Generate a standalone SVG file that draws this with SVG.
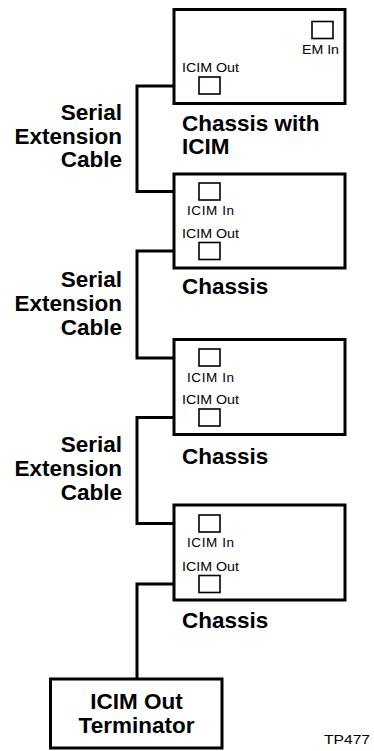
<svg xmlns="http://www.w3.org/2000/svg" width="374" height="751" viewBox="0 0 374 751">
<style>
.box{fill:#fff;stroke:#000;stroke-width:3}
.port{fill:#fff;stroke:#000;stroke-width:1.6}
.cable{fill:none;stroke:#000;stroke-width:3;stroke-linejoin:miter}
.sm{font-family:"Liberation Sans",Arial,sans-serif;font-size:13.5px;fill:#000}
.bd{font-family:"Liberation Sans",Arial,sans-serif;font-size:22.5px;font-weight:bold;fill:#000}
.lbl{text-anchor:end}
</style>
<rect width="374" height="751" fill="#fff"/>
<g id="connectors">
<path class="cable" d="M199,86 H137 V191.5 H199"/>
<path class="cable" d="M199,251 H137 V358 H199"/>
<path class="cable" d="M199,417.5 H137 V523.5 H199"/>
<path class="cable" d="M199,584 H137 V679"/>
</g>
<g id="chassis1">
<rect class="box" x="174" y="9.5" width="171" height="94"/>
<rect class="port" x="312" y="21.5" width="21" height="17"/>
<text class="sm" x="302" y="54" textLength="37" lengthAdjust="spacingAndGlyphs">EM In</text>
<text class="sm" x="182" y="72" textLength="57" lengthAdjust="spacingAndGlyphs">ICIM Out</text>
<rect class="port" x="199" y="77" width="21" height="17"/>
<text class="bd" x="182" y="131">Chassis with</text>
<text class="bd" x="182" y="154">ICIM</text>
</g>
<g id="label1">
<text class="bd lbl" x="122" y="120">Serial</text>
<text class="bd lbl" x="122" y="143.5">Extension</text>
<text class="bd lbl" x="122" y="167">Cable</text>
</g>
<g id="chassis2">
<rect class="box" x="174" y="174" width="171" height="94"/>
<rect class="port" x="199" y="183" width="21" height="17"/>
<text class="sm" x="187" y="215" textLength="47" lengthAdjust="spacing">ICIM In</text>
<text class="sm" x="182" y="237.5" textLength="57" lengthAdjust="spacingAndGlyphs">ICIM Out</text>
<rect class="port" x="199" y="242.5" width="21" height="17"/>
<text class="bd" x="182" y="294">Chassis</text>
</g>
<g id="label2">
<text class="bd lbl" x="122" y="286.5">Serial</text>
<text class="bd lbl" x="122" y="311">Extension</text>
<text class="bd lbl" x="122" y="335">Cable</text>
</g>
<g id="chassis3">
<rect class="box" x="174" y="339.5" width="171" height="95"/>
<rect class="port" x="199" y="349" width="21" height="17"/>
<text class="sm" x="187" y="382" textLength="47" lengthAdjust="spacing">ICIM In</text>
<text class="sm" x="182" y="404" textLength="57" lengthAdjust="spacingAndGlyphs">ICIM Out</text>
<rect class="port" x="199" y="409" width="21" height="17"/>
<text class="bd" x="182" y="464">Chassis</text>
</g>
<g id="label3">
<text class="bd lbl" x="122" y="451.5">Serial</text>
<text class="bd lbl" x="122" y="476">Extension</text>
<text class="bd lbl" x="122" y="500">Cable</text>
</g>
<g id="chassis4">
<rect class="box" x="174" y="505" width="171" height="95"/>
<rect class="port" x="199" y="515" width="21" height="17"/>
<text class="sm" x="187" y="546.5" textLength="47" lengthAdjust="spacing">ICIM In</text>
<text class="sm" x="182" y="570.5" textLength="57" lengthAdjust="spacingAndGlyphs">ICIM Out</text>
<rect class="port" x="199" y="575.5" width="21" height="17"/>
<text class="bd" x="182" y="628">Chassis</text>
</g>
<g id="terminator">
<rect class="box" x="50.5" y="679" width="171.5" height="69"/>
<text class="bd" x="136.5" y="709" text-anchor="middle">ICIM Out</text>
<text class="bd" x="136.5" y="732.5" text-anchor="middle">Terminator</text>
</g>
<text class="sm" x="324" y="744" font-size="14" textLength="46" lengthAdjust="spacingAndGlyphs">TP477</text>
</svg>
